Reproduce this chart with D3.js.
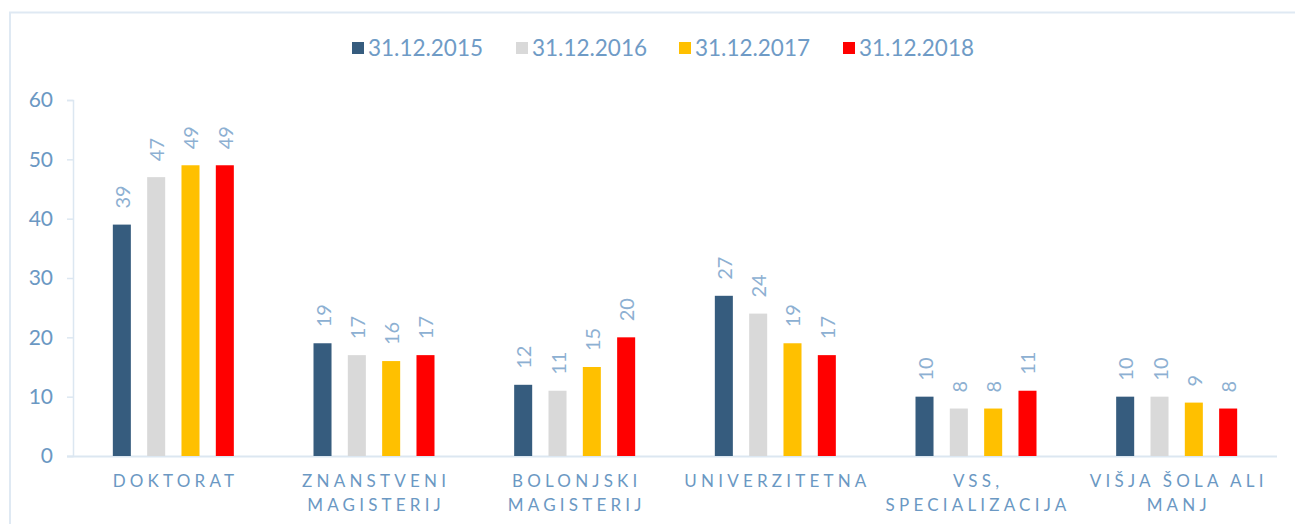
<!DOCTYPE html>
<html>
<head>
<meta charset="utf-8">
<script src="https://cdn.jsdelivr.net/npm/d3@7"></script>
<style>
html,body{margin:0;padding:0;background:#fff;}
svg{display:block;font-family:"Lato","Open Sans",sans-serif;}
</style>
</head>
<body>
<svg id="chart" width="1295" height="524"></svg>
<script>
const categories = [["DOKTORAT"],["ZNANSTVENI","MAGISTERIJ"],["BOLONJSKI","MAGISTERIJ"],["UNIVERZITETNA"],["VSS,","SPECIALIZACIJA"],["VIŠJA ŠOLA ALI","MANJ"]];
const seriesNames = ["31.12.2015","31.12.2016","31.12.2017","31.12.2018"];
const colors = ["#365c7e","#d9d9d9","#ffc000","#ff0000"];
const s2015 = [39,19,12,27,10,10];
const s2016 = [47,17,11,24,8,10];
const s2017 = [49,16,15,19,8,9];
const s2018 = [49,17,20,17,11,8];
const yTicks = [0,10,20,30,40,50,60];

const seriesValues = [s2015,s2016,s2017,s2018];
const svg = d3.select("#chart");
const W = 1295, H = 524;

// frame
svg.append("path").attr("d", `M10,${H+5} L10,12.5 L${W+5},12.5`).attr("fill","none")
  .attr("stroke","#dfe9f3").attr("stroke-width",2);

const catIdx = categories.map((d,i)=>i);
const x0 = d3.scaleBand().domain(catIdx).range([73,1277]).paddingInner(0.397).paddingOuter(0.1985);
const x1 = d3.scaleBand().domain(d3.range(seriesNames.length)).range([0,x0.bandwidth()]).paddingInner(0.475).paddingOuter(0);
const y = d3.scaleLinear().domain([0,60]).range([456,100]);

// y axis
const yAxis = d3.axisLeft(y).tickValues(yTicks).tickSize(6).tickPadding(14);
const gy = svg.append("g").attr("transform","translate(73,0)").call(yAxis);
gy.select(".domain").attr("stroke","#dce7f1").attr("stroke-width",1.5);
gy.selectAll(".tick line").attr("stroke","#dce7f1").attr("stroke-width",1.5);
gy.selectAll(".tick text").attr("fill","#6b98c3").attr("font-size",21).attr("font-family","Lato, sans-serif");

// x axis line
svg.append("line").attr("x1",67).attr("x2",1277).attr("y1",y(0)+0.5).attr("y2",y(0)+0.5)
  .attr("stroke","#dce7f1").attr("stroke-width",2);

// bars
const groups = svg.append("g").selectAll("g").data(catIdx).join("g")
  .attr("transform", d=>`translate(${x0(d)},0)`);
groups.selectAll("rect").data(ci => seriesValues.map((s,si)=>({si, v:s[ci]}))).join("rect")
  .attr("x", d=>x1(d.si)).attr("width", x1.bandwidth())
  .attr("y", d=>y(d.v)).attr("height", d=>y(0)-y(d.v))
  .attr("fill", d=>colors[d.si]);
groups.selectAll("text").data(ci => seriesValues.map((s,si)=>({si, v:s[ci]}))).join("text")
  .attr("transform", d=>`translate(${x1(d.si)+x1.bandwidth()/2},${y(d.v)-16}) rotate(-90)`)
  .attr("dominant-baseline","central").attr("text-anchor","start")
  .attr("fill","#8db0d2").attr("font-size",20)
  .text(d=>d.v);

// category labels
const ls = 4.2;
svg.append("g").selectAll("text").data(catIdx).join("text")
  .attr("x", d=>x0(d)+x0.bandwidth()/2 + ls/2)
  .attr("y", 487)
  .attr("text-anchor","middle").attr("fill","#6b98c3").attr("font-size",17)
  .attr("letter-spacing", ls)
  .each(function(d){
    const t = d3.select(this);
    categories[d].forEach((line,li)=>{
      t.append("tspan").attr("x", x0(d)+x0.bandwidth()/2 + ls/2).attr("dy", li===0?0:24).text(line);
    });
  });

// legend
const legend = svg.append("g");
const legX = [352,516,679,843];
seriesNames.forEach((n,i)=>{
  const g = legend.append("g").attr("transform",`translate(${legX[i]},0)`);
  g.append("rect").attr("x",0).attr("y",42).attr("width",12).attr("height",12).attr("fill",colors[i]);
  g.append("text").attr("x",16).attr("y",56).attr("fill","#6f9bc6").attr("font-size",22.5).text(n);
});
</script>
</body>
</html>
